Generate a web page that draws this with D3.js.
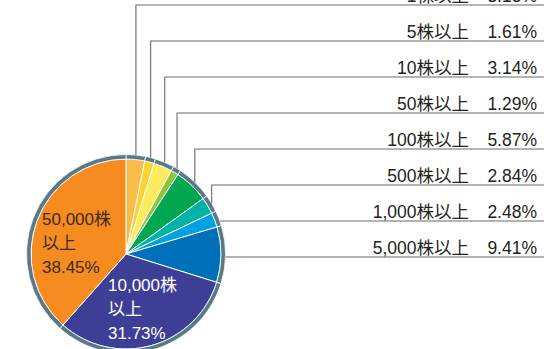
<!DOCTYPE html>
<html><head><meta charset="utf-8">
<script src="https://cdn.jsdelivr.net/npm/d3@7"></script>
<style>
html,body{margin:0;padding:0;background:#fff;overflow:hidden;}
svg{display:block;}
text{font-family:"Liberation Sans","Noto Sans CJK JP",sans-serif;}
</style></head>
<body><svg id="c" width="544" height="349"></svg>
<script>
const categories = ["1株以上","5株以上","10株以上","50株以上","100株以上","500株以上","1,000株以上","5,000株以上","10,000株以上","50,000株以上"];
const values = [3.18,1.61,3.14,1.29,5.87,2.84,2.48,9.41,31.73,38.45];
const colors = ["#fbbd4a","#fdd22f","#fdea5d","#8cc63e","#00a650","#00b3a6","#00a0e3","#0070bb","#3d3f96","#f68b1f"];
const calloutIdx = [0,1,2,3,4,5,6,7];
const innerLabels = [
  {i:9, lines:["50,000株","以上","38.45%"], fill:"#3a2c1a"},
  {i:8, lines:["10,000株","以上","31.73%"], fill:"#ffffff"}
];

const svg = d3.select("#c");
const cx = 126, cy = 254, R = 99.5, ringW = 4.5;
const g = svg.append("g").attr("transform",`translate(${cx},${cy})`);
const pie = d3.pie().sort(null).value(d=>d)(values);
const arcFill = d3.arc().innerRadius(0).outerRadius(R-ringW);
const arcRing = d3.arc().innerRadius(R-ringW).outerRadius(R);

g.selectAll("path.s").data(pie).join("path").attr("class","s")
  .attr("d",arcFill).attr("fill",(d,i)=>colors[i]).attr("stroke","#fff").attr("stroke-width",1);
g.selectAll("path.r").data(pie).join("path").attr("class","r")
  .attr("d",arcRing).attr("fill","#587986").attr("stroke","#fff").attr("stroke-width",0.8);

// callout rows
const rowY = d3.scaleLinear().domain([0,1]).range([5,41]);
const W = 544;
calloutIdx.forEach((idx,k)=>{
  const d = pie[idx];
  const a = (d.startAngle+d.endAngle)/2;
  const ax = cx + R*Math.sin(a), ay = cy - R*Math.cos(a);
  const y = rowY(k);
  let path;
  if (ay - y > 6) {
    path = `M${ax},${ay}V${y}H${W}`;
  } else {
    const dy = y - cy;
    const x0 = cx + Math.sqrt(Math.max(0,R*R-dy*dy));
    path = `M${x0},${y}H${W}`;
  }
  svg.append("path").attr("d",path).attr("fill","none").attr("stroke","#6b6b6b").attr("stroke-width",1.1);
  svg.append("text").attr("x",469).attr("y",y-3.5).attr("text-anchor","end")
    .attr("font-size",17.5).attr("fill","#231f20").text(categories[idx]);
  svg.append("text").attr("x",537).attr("y",y-3.5).attr("text-anchor","end")
    .attr("font-size",17.5).attr("fill","#231f20").text(values[idx].toFixed(2)+"%");
});

// inner labels
const innerPos = {9:[42,225], 8:[108,291]};
innerLabels.forEach(l=>{
  const [x,y] = innerPos[l.i];
  const t = svg.append("text").attr("x",x).attr("y",y).attr("font-size",17).attr("fill",l.fill);
  l.lines.forEach((s,j)=>t.append("tspan").attr("x",x).attr("y",y+j*24).text(s));
});
</script></body></html>
